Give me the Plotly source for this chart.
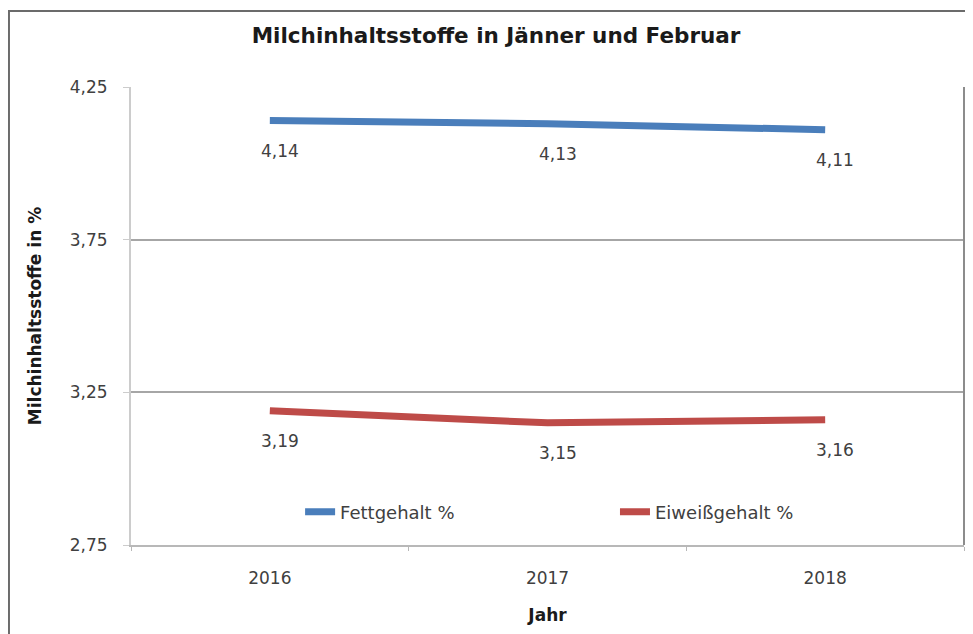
import plotly.graph_objects as go

# Werte aus der Grafik
jahre = ["2016", "2017", "2018"]
fett = [4.14, 4.13, 4.11]
eiweiss = [3.19, 3.15, 3.16]
y_ticks = [2.75, 3.25, 3.75, 4.25]

FONT = "DejaVu Sans"
BLUE = "#4a7ebb"
RED = "#be4b48"
TXT = "#404040"


def fmt(v):
    return f"{v:.2f}".replace(".", ",")


fig = go.Figure()

fig.add_trace(go.Scatter(x=jahre, y=fett, name="Fettgehalt %", mode="lines",
                         line=dict(color=BLUE, width=7), legend="legend"))
fig.add_trace(go.Scatter(x=jahre, y=eiweiss, name="Eiweißgehalt %", mode="lines",
                         line=dict(color=RED, width=7), legend="legend2"))

# Datenbeschriftungen unter den Punkten (x als Kategorie-Index)
for series in (fett, eiweiss):
    for i, v in enumerate(series):
        fig.add_annotation(x=i, y=v, text=fmt(v), showarrow=False,
                           yshift=-30, xshift=10,
                           font=dict(family=FONT, size=17, color=TXT))

# äußerer Rahmen des Diagramms
fig.add_shape(type="rect", xref="paper", yref="paper",
              x0=-0.1465, x1=1.05, y0=-0.3, y1=1.166,
              line=dict(color="#6b6b6b", width=2), layer="below")
# rechter Rand der Zeichenfläche
fig.add_shape(type="line", xref="paper", yref="paper",
              x0=1, x1=1, y0=0, y1=1,
              line=dict(color="#8c8c8c", width=2))

leg = dict(orientation="h", yanchor="middle", y=0.072, xanchor="left",
           font=dict(family=FONT, size=18, color=TXT), bgcolor="rgba(0,0,0,0)")

fig.update_layout(
    width=973, height=634,
    margin=dict(l=123, r=17, t=79, b=97),
    paper_bgcolor="white", plot_bgcolor="white",
    separators=",.",
    title=dict(text="<b>Milchinhaltsstoffe in Jänner und Februar</b>",
               x=0.5016, xanchor="center", y=0.957, yanchor="middle",
               font=dict(family=FONT, size=21.5, color="#1a1a1a")),
    font=dict(family=FONT, color=TXT),
    legend=dict(leg, x=0.203),
    legend2=dict(leg, x=0.581),
    showlegend=True,
)

fig.update_xaxes(
    type="category", range=[-0.5, 2.5], tickangle=0,
    showline=True, linecolor="#b8b8b8", linewidth=2,
    ticks="outside", tickson="boundaries", ticklen=4, tickcolor="#b8b8b8",
    ticklabelstandoff=17,
    showgrid=False,
    tickfont=dict(family=FONT, size=17, color=TXT),
    title=dict(text="<b>Jahr</b>", font=dict(family=FONT, size=17, color="#1a1a1a"),
               standoff=22),
)

fig.update_yaxes(
    range=[2.75, 4.25], tickvals=y_ticks, tickformat=".2f",
    showline=True, linecolor="#cccccc", linewidth=2,
    showgrid=True, gridcolor="#a6a6a6", gridwidth=2,
    zeroline=False,
    ticks="outside", ticklen=6, tickcolor="#cccccc",
    ticklabelstandoff=12,
    tickfont=dict(family=FONT, size=17, color=TXT),
    title=dict(text="<b>Milchinhaltsstoffe in %</b>",
               font=dict(family=FONT, size=17, color="#1a1a1a"), standoff=24),
)

fig.write_html("out.html")
